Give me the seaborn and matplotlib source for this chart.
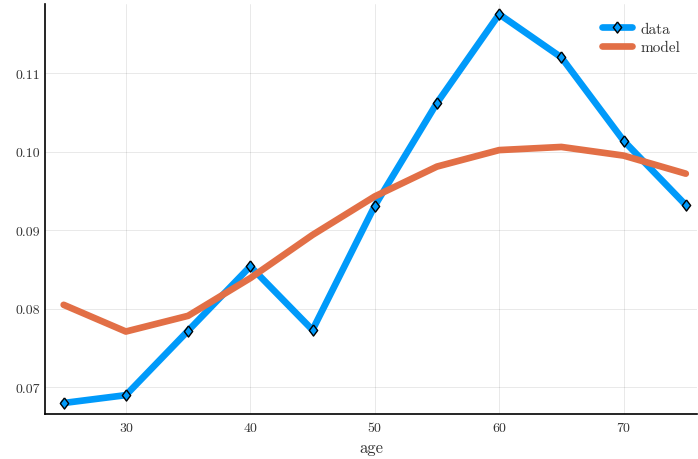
import numpy as np
import pandas as pd
import matplotlib
matplotlib.use("Agg")
import matplotlib.pyplot as plt
import seaborn as sns

# dữ liệu
ages = [25, 30, 35, 40, 45, 50, 55, 60, 65, 70, 75]
data_vals = [0.0680, 0.0690, 0.0772, 0.0854, 0.0773, 0.0931, 0.1062, 0.1175, 0.1120, 0.1014, 0.0932]
model_vals = [0.0805, 0.0771, 0.0791, 0.0839, 0.0894, 0.0943, 0.0981, 0.1002, 0.1006, 0.0995, 0.0972]
x_ticks = [30, 40, 50, 60, 70]
y_ticks = [0.07, 0.08, 0.09, 0.10, 0.11]

df = pd.DataFrame({"age": ages, "data": data_vals, "model": model_vals})

sns.set_style("white")
plt.rcParams["font.family"] = ["cmr10", "DejaVu Serif"]
plt.rcParams["axes.formatter.use_mathtext"] = True

# hình thoi hơi rộng hơn "d"
diamond = [(0, 1), (0.75, 0), (0, -1), (-0.75, 0), (0, 1)]

fig = plt.figure(figsize=(6.98, 4.6), dpi=100)
ax = fig.add_axes([45 / 698, 1 - 415 / 460, 652 / 698, 410 / 460])

sns.lineplot(data=df, x="age", y="data", ax=ax, color="#009AFA", linewidth=4.8,
             marker=diamond, markersize=8, markerfacecolor="#009AFA",
             markeredgecolor="black", markeredgewidth=1.0, label="data")
sns.lineplot(data=df, x="age", y="model", ax=ax, color="#E26F46", linewidth=4.8,
             label="model")

ax.set_xlim(23.5, 75.9)
ax.set_ylim(0.0666, 0.1188)
ax.set_xticks(x_ticks)
ax.set_yticks(y_ticks)
ax.set_xticklabels([str(t) for t in x_ticks])
ax.set_yticklabels([f"{t:.2f}" for t in y_ticks])
ax.grid(True, color="black", alpha=0.1, linewidth=0.6)
ax.tick_params(direction="in", length=4, width=0.8, labelsize=10, colors="black",
               labelcolor="#333333")
ax.tick_params(axis="x", pad=6)
ax.set_xlabel("age", fontsize=12, color="#333333")
ax.set_ylabel("")

for side in ["top", "right"]:
    ax.spines[side].set_visible(False)
for side in ["left", "bottom"]:
    ax.spines[side].set_color("black")
    ax.spines[side].set_linewidth(1.2)

leg = ax.legend(loc="upper right", frameon=False, fontsize=11, handlelength=2.0,
                handletextpad=0.5, bbox_to_anchor=(0.995, 0.99), labelspacing=0.3)
for t in leg.get_texts():
    t.set_color("#333333")

fig.savefig("out.png", dpi=100)
